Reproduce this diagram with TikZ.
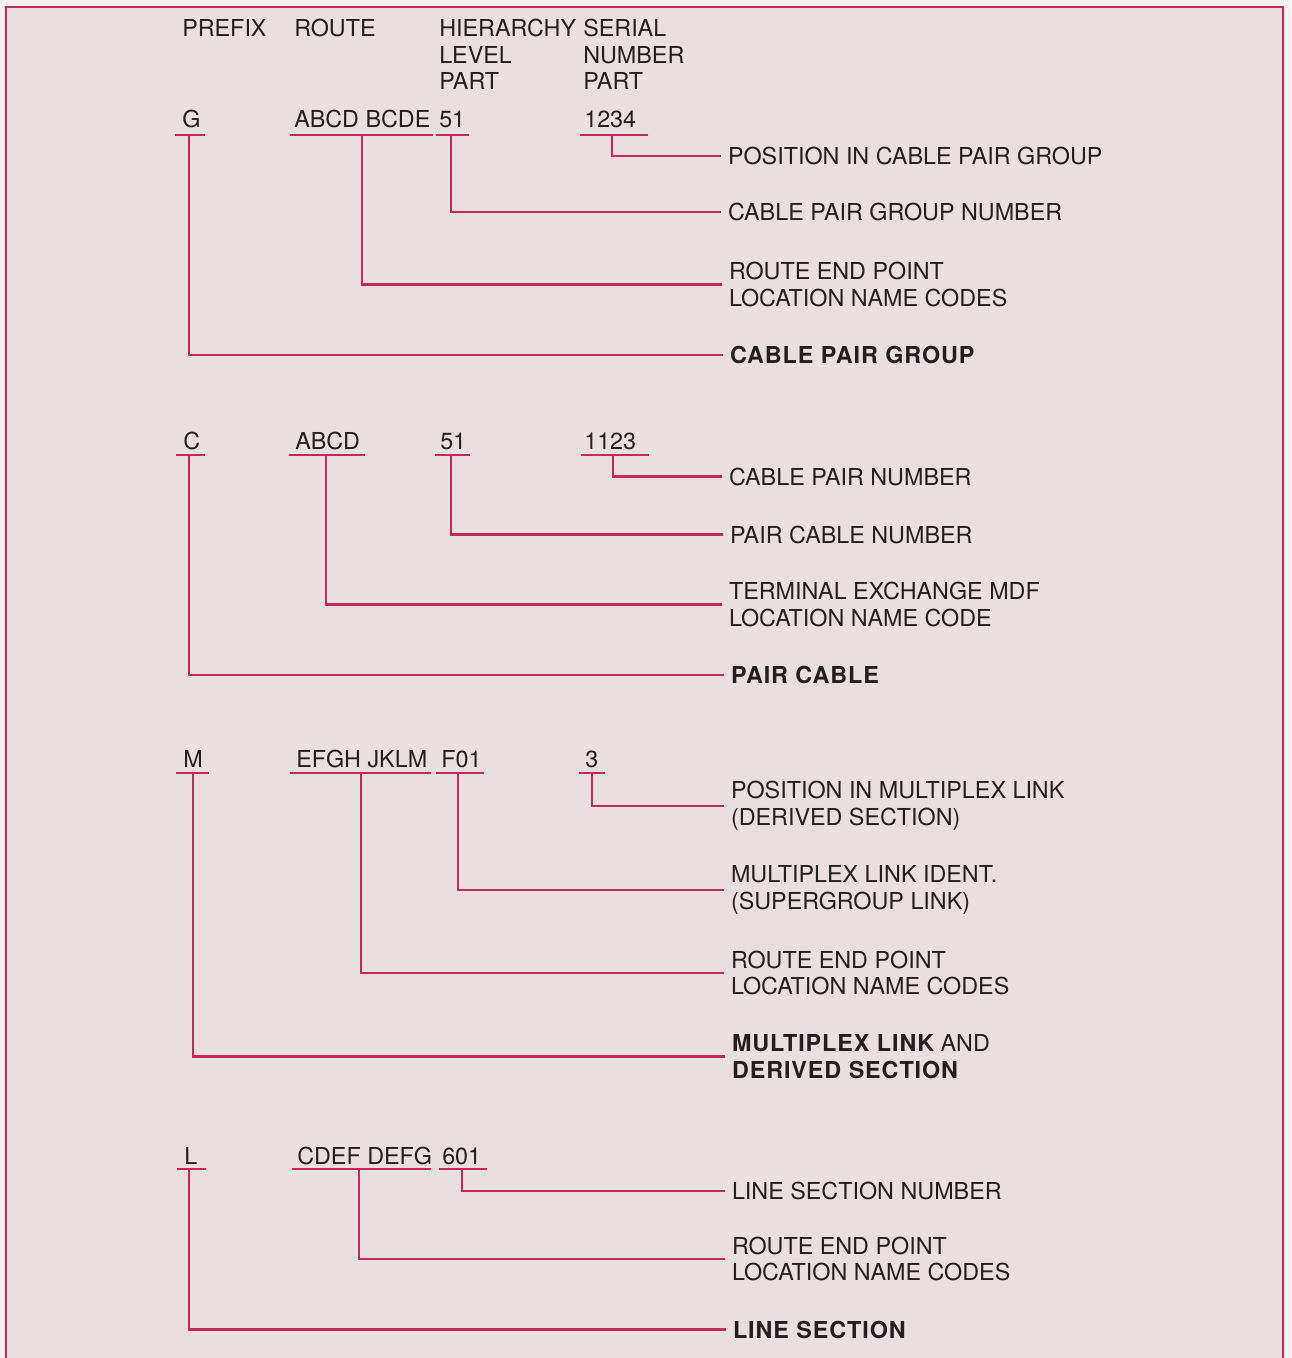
\documentclass[tikz,border=0pt]{standalone}
\usepackage{fontspec}
\setmainfont{TeX Gyre Heros}
\definecolor{linered}{RGB}{198,40,86}
\definecolor{paper}{RGB}{233,223,224}
\definecolor{outside}{RGB}{245,241,240}
\definecolor{ink}{RGB}{35,31,32}
\newcommand{\widebf}[1]{{\bfseries\addfontfeatures{LetterSpace=4}#1}}
\tikzset{
  conn/.style={draw=linered, line width=2.1pt, line cap=rect},
  framestyle/.style={draw=linered, line width=1.5pt},
  lbl/.style={inner sep=0pt, anchor=base west, text=ink, font=\fontsize{17.5}{19.9}\selectfont},
  desc/.style={inner sep=0pt, outer xsep=6pt, anchor=west, align=left, text=ink, font=\fontsize{17.5}{19.9}\selectfont},
}
\begin{document}
\begin{tikzpicture}[x=0.75pt,y=-0.75pt]
\useasboundingbox (0,0) rectangle (1291,1358);
\fill[outside] (0,0) rectangle (1291,1358);
\fill[paper] (6,7) rectangle (1283,1358);
\draw[framestyle] (6,1358) -- (6,7) -- (1283,7) -- (1283,1358);

% header
\node[lbl] (hPrefix) at (182,37) {PREFIX};
\node[lbl] (hRoute) at (294,37) {ROUTE};
\node[lbl] (hHier1) at (439,37) {HIERARCHY};
\node[lbl] (hHier2) at (439,63.5) {LEVEL};
\node[lbl] (hHier3) at (439,89.5) {PART};
\node[lbl] (hSer1) at (583,37) {SERIAL};
\node[lbl] (hSer2) at (583,63.5) {NUMBER};
\node[lbl] (hSer3) at (583,89.5) {PART};

% ---------- block G ----------
\node[lbl] (cG1) at (182,128) {G};
\node[lbl] (cG2) at (294,128) {ABCD BCDE};
\node[lbl] (cG3) at (439,128) {51};
\node[lbl] (cG4) at (584,128) {1234};
\draw[conn] (176,135) -- (204,135);
\draw[conn] (291,135) -- (432,135);
\draw[conn] (437,135) -- (468,135);
\draw[conn] (581,135) -- (647,135);
\coordinate (gG1) at (189,135);
\coordinate (gG2) at (362,135);
\coordinate (gG3) at (451,135);
\coordinate (gG4) at (612,135);
\node[desc] (dG1) at (720,156) {POSITION IN CABLE PAIR GROUP};
\node[desc] (dG2) at (720,212) {CABLE PAIR GROUP NUMBER};
\node[desc] (dG3) at (721,284.5) {ROUTE END POINT\\LOCATION NAME CODES};
\node[desc] (dG4) at (722,355) {\widebf{CABLE PAIR GROUP}};
\draw[conn] (gG4) |- (dG1.west);
\draw[conn] (gG3) |- (dG2.west);
\draw[conn] (gG2) |- (dG3.west);
\draw[conn] (gG1) |- (dG4.west);

% ---------- block C ----------
\node[lbl] (cC1) at (183,449) {C};
\node[lbl] (cC2) at (295,449) {ABCD};
\node[lbl] (cC3) at (440,449) {51};
\node[lbl] (cC4) at (584,449) {1123};
\draw[conn] (177,455) -- (204,455);
\draw[conn] (290,455) -- (364,455);
\draw[conn] (436,455) -- (469,455);
\draw[conn] (582,455) -- (648,455);
\coordinate (gC1) at (189,455);
\coordinate (gC2) at (326,455);
\coordinate (gC3) at (451,455);
\coordinate (gC4) at (613,455);
\node[desc] (dC1) at (721,476.5) {CABLE PAIR NUMBER};
\node[desc] (dC2) at (722,534.5) {PAIR CABLE NUMBER};
\node[desc] (dC3) at (721,604.5) {TERMINAL EXCHANGE MDF\\LOCATION NAME CODE};
\node[desc] (dC4) at (723,675) {\widebf{PAIR CABLE}};
\draw[conn] (gC4) |- (dC1.west);
\draw[conn] (gC3) |- (dC2.west);
\draw[conn] (gC2) |- (dC3.west);
\draw[conn] (gC1) |- (dC4.west);

% ---------- block M ----------
\node[lbl] (cM1) at (183,767.5) {M};
\node[lbl] (cM2) at (296,767.5) {EFGH JKLM};
\node[lbl] (cM3) at (441,767.5) {F01};
\node[lbl] (cM4) at (585,767.5) {3};
\draw[conn] (177,773) -- (208,773);
\draw[conn] (291,773) -- (430,773);
\draw[conn] (437,773) -- (483,773);
\draw[conn] (580,773) -- (604,773);
\coordinate (gM1) at (193,773);
\coordinate (gM2) at (361,773);
\coordinate (gM3) at (458,773);
\coordinate (gM4) at (592,773);
\node[desc] (dM1) at (723,806) {POSITION IN MULTIPLEX LINK\\(DERIVED SECTION)};
\node[desc] (dM2) at (723,890) {MULTIPLEX LINK IDENT.\\(SUPERGROUP LINK)};
\node[desc] (dM3) at (723,973) {ROUTE END POINT\\LOCATION NAME CODES};
\node[desc] (dM4) at (724,1056.5) {\widebf{MULTIPLEX LINK} AND\\\widebf{DERIVED SECTION}};
\draw[conn] (gM4) |- (dM1.west);
\draw[conn] (gM3) |- (dM2.west);
\draw[conn] (gM2) |- (dM3.west);
\draw[conn] (gM1) |- (dM4.west);

% ---------- block L ----------
\node[lbl] (cL1) at (184,1164) {L};
\node[lbl] (cL2) at (297,1164) {CDEF DEFG};
\node[lbl] (cL3) at (442,1164) {601};
\draw[conn] (178,1169) -- (205,1169);
\draw[conn] (293,1169) -- (430,1169);
\draw[conn] (440,1169) -- (486,1169);
\coordinate (gL1) at (189,1169);
\coordinate (gL2) at (359,1169);
\coordinate (gL3) at (462,1169);
\node[desc] (dL1) at (724,1191) {LINE SECTION NUMBER};
\node[desc] (dL2) at (724,1259) {ROUTE END POINT\\LOCATION NAME CODES};
\node[desc] (dL3) at (725,1329.5) {\widebf{LINE SECTION}};
\draw[conn] (gL3) |- (dL1.west);
\draw[conn] (gL2) |- (dL2.west);
\draw[conn] (gL1) |- (dL3.west);
\end{tikzpicture}
\end{document}
